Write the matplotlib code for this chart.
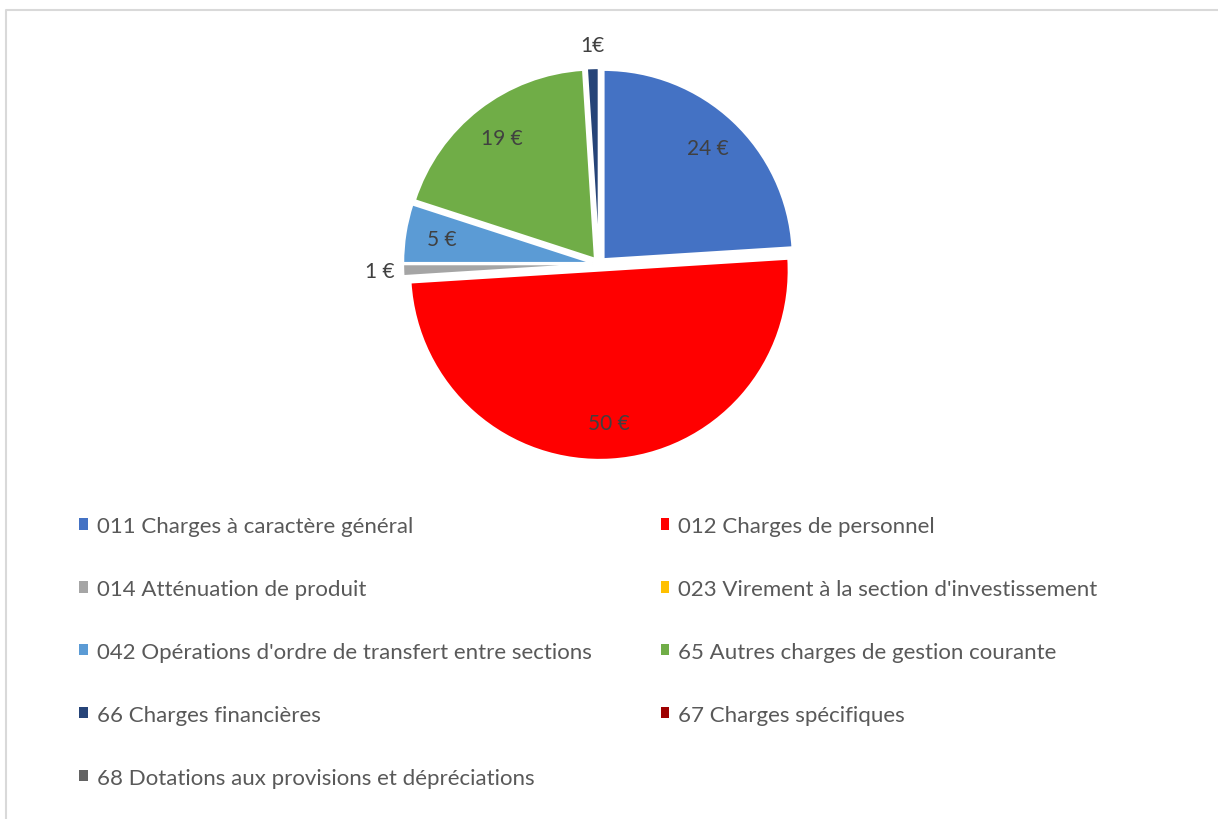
import matplotlib.pyplot as plt
import numpy as np
from matplotlib.patches import Patch
from matplotlib.lines import Line2D

plt.rcParams['font.family'] = ['Lato', 'DejaVu Sans']

categories = ["011 Charges à caractère général", "012 Charges de personnel",
              "014 Atténuation de produit", "023 Virement à la section d'investissement",
              "042 Opérations d'ordre de transfert entre sections", "65 Autres charges de gestion courante",
              "66 Charges financières", "67 Charges spécifiques",
              "68 Dotations aux provisions et dépréciations"]
values = [24, 50, 1, 0, 5, 19, 1, 0, 0]
value_labels = ["24 €", "50 €", "1 €", "", "5 €", "19 €", "1€", "", ""]
colors = ["#4472C4", "#FF0000", "#A5A5A5", "#FFC000", "#5B9BD5",
          "#70AD47", "#264478", "#9E0000", "#636363"]

W, H = 1218, 820
fig = plt.figure(figsize=(W / 100, H / 100), dpi=100)

# pie axes, centre ~ (599, 265) px from top, 1 unit ~ 182 px
cx, cy, R = 599, 265, 182
lim = 1.3
side = 2 * lim * R
ax = fig.add_axes([(cx - side / 2) / W, 1 - (cy + side / 2) / H, side / W, side / H])
ax.set_xlim(-lim, lim)
ax.set_ylim(-lim, lim)
ax.axis('off')

wedges, _ = ax.pie(values, colors=colors, startangle=90, counterclock=False,
                   explode=[0.035] * len(values), radius=1,
                   wedgeprops=dict(edgecolor='white', linewidth=1.5))

for w, lab, v in zip(wedges, value_labels, values):
    if not lab:
        continue
    mid = np.deg2rad((w.theta1 + w.theta2) / 2)
    d = 0.84 if v >= 5 else 1.16
    ax.text(d * np.cos(mid), d * np.sin(mid), lab, ha='center', va='center',
            fontsize=15, color='#404040')

# legend, filled row by row like the original
order = [0, 2, 4, 6, 8, 1, 3, 5, 7]
handles = [Patch(facecolor=colors[i], edgecolor='none') for i in order]
labels = [categories[i] for i in order]
fig.legend(handles, labels, ncol=2, loc='upper left',
           bbox_to_anchor=(79 / W, 1 - 517 / H), frameon=False,
           fontsize=16, labelcolor='#595959', handlelength=0.4, handleheight=0.4,
           handletextpad=0.4, labelspacing=1.93, columnspacing=3.1, borderpad=0,
           borderaxespad=0)

# light chart frame (only top and left edges visible)
fig.add_artist(Line2D([6 / W, 6 / W, 1.0], [0, 1 - 11 / H, 1 - 11 / H],
                      color='#D9D9D9', linewidth=1.5, transform=fig.transFigure))

fig.savefig('out.png', dpi=100)
